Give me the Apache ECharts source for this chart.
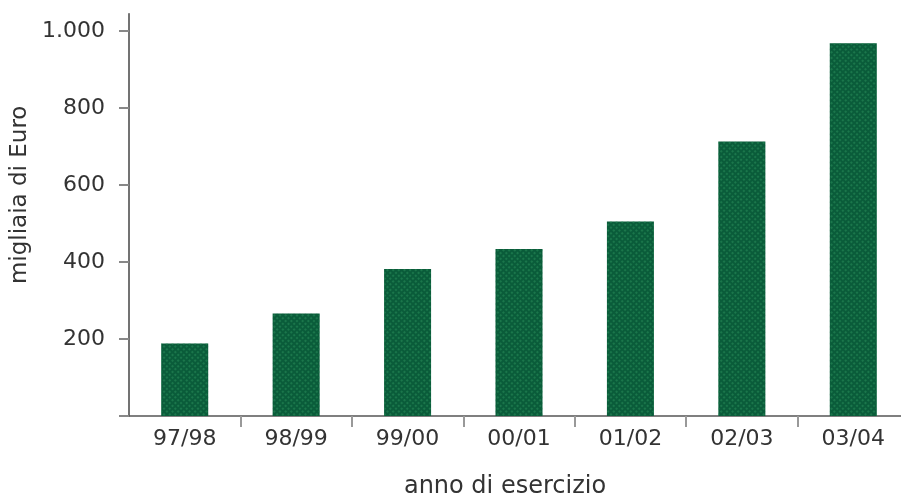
<!DOCTYPE html>
<html>
<head>
<meta charset="utf-8">
<script src="https://cdn.jsdelivr.net/npm/echarts@6/dist/echarts.min.js"></script>
<style>
  html, body { margin: 0; padding: 0; background: #fff; }
  #chart { width: 901px; height: 497px; }
</style>
</head>
<body>
<div id="chart"></div>
<script>
// Fatturato per anno di esercizio (migliaia di Euro)
const categories = ['97/98', '98/99', '99/00', '00/01', '01/02', '02/03', '03/04'];
const values = [188, 266, 382, 434, 505, 713, 968];
const yTickValues = [0, 200, 400, 600, 800, 1000];
const yLabelValues = [200, 400, 600, 800, 1000];

const textColor = '#333';
const fontFamily = '"DejaVu Sans", Arial, Helvetica, sans-serif';

const chart = echarts.init(document.getElementById('chart'), null, { renderer: 'canvas' });
chart.setOption({
  animation: false,
  grid: {
    left: 129, right: -8, top: 13.7, bottom: 81,
    containLabel: false, outerBoundsMode: 'none'
  },
  xAxis: {
    type: 'category',
    data: categories,
    name: 'anno di esercizio',
    nameLocation: 'middle',
    nameGap: 59,
    nameTextStyle: { color: textColor, fontSize: 24, fontFamily: fontFamily, padding: [0, 28, 0, 0] },
    axisLine: { show: true, lineStyle: { color: '#555', width: 1.5 } },
    axisTick: {
      show: true, alignWithLabel: false, length: 11,
      interval: function (index) { return index !== 0; },
      lineStyle: { color: '#999', width: 2 }
    },
    axisLabel: { color: textColor, fontSize: 22, fontFamily: fontFamily, margin: 12 },
    splitLine: { show: false }
  },
  yAxis: {
    type: 'value',
    min: 0,
    max: 1045,
    interval: 200,
    name: 'migliaia di Euro',
    nameLocation: 'middle',
    nameGap: 96,
    nameRotate: 90,
    nameTextStyle: { color: textColor, fontSize: 23, fontFamily: fontFamily, padding: [0, 0, 0, 40] },
    axisLine: { show: true, lineStyle: { color: '#444', width: 1.5 } },
    axisTick: {
      show: true, inside: false, length: 10,
      customValues: yTickValues,
      lineStyle: { color: '#888', width: 2 }
    },
    axisLabel: {
      color: textColor, fontSize: 22, fontFamily: fontFamily, margin: 24,
      customValues: yLabelValues,
      formatter: function (v) { return v.toLocaleString('it-IT').replace(/\s/g, '.'); }
    },
    splitLine: { show: false }
  },
  series: [{
    type: 'bar',
    data: values,
    barWidth: 47,
    itemStyle: {
      color: '#0a5c3a',
      // fine crosshatch texture over the fill
      decal: {
        symbol: 'rect',
        symbolSize: 1,
        color: 'rgba(40, 140, 90, 0.55)',
        dashArrayX: [2, 2],
        dashArrayY: [2, 2],
        rotation: Math.PI / 4
      }
    }
  }]
});
</script>
</body>
</html>
